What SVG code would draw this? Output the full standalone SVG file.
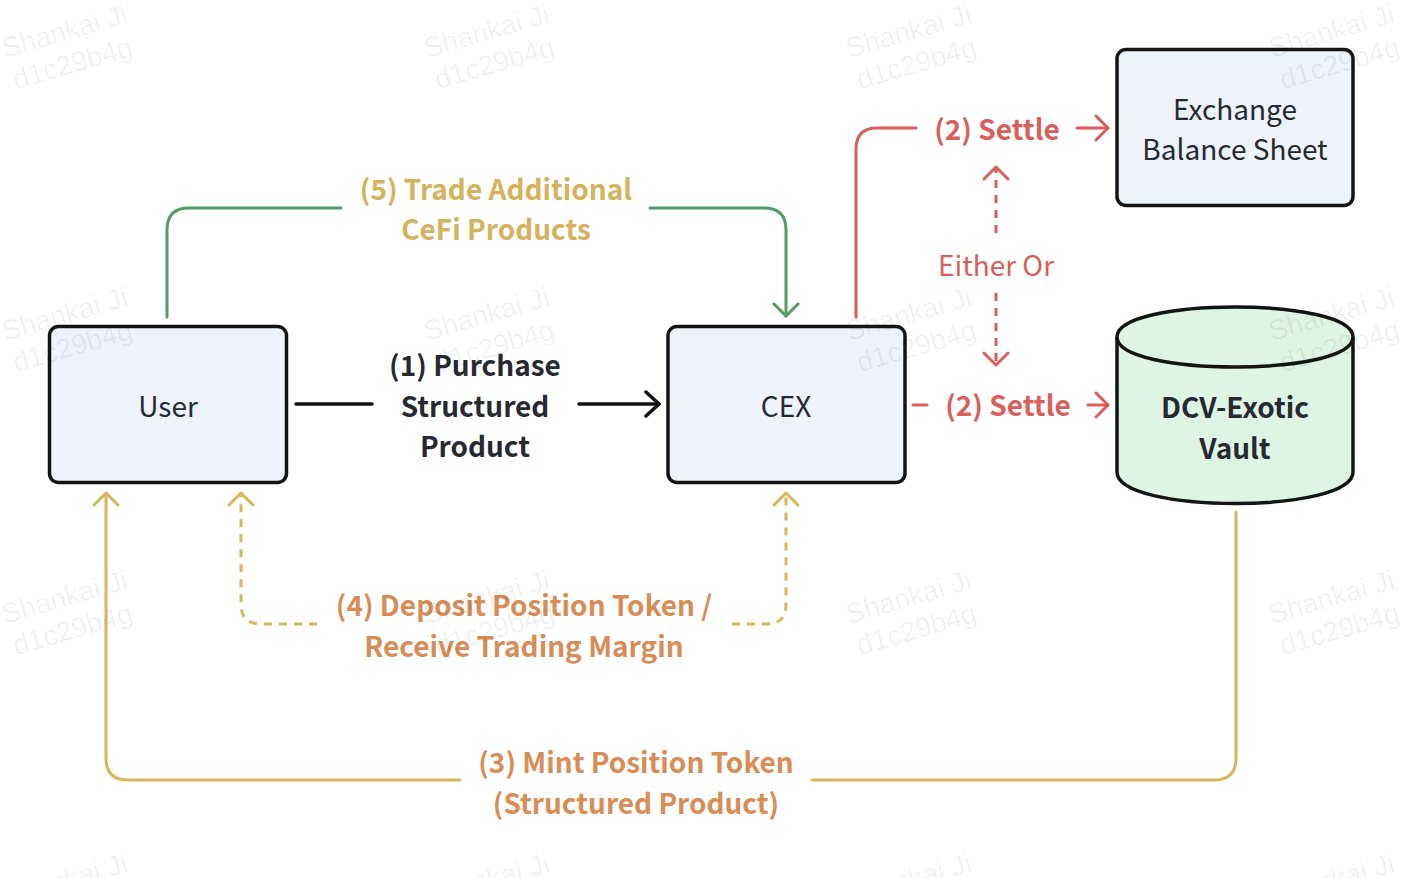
<svg xmlns="http://www.w3.org/2000/svg" width="1404" height="878" viewBox="0 0 1404 878">
<style>
  text { font-family: "Noto Sans CJK SC", "Noto Sans", "Liberation Sans", sans-serif; font-size: 28px; text-anchor: middle; }
  .node { fill: #EEF2FB; stroke: #141414; stroke-width: 3.5; }
  .vault { fill: #DEF4E4; stroke: #141414; stroke-width: 3.5; }
  .nlabel { fill: #262A30; }
  .b { font-weight: bold; }
  .dark { fill: #262A30; }
  .gold { fill: #D5B25C; }
  .orange { fill: #D88C56; }
  .red { fill: #D85F5C; }
  .ln { fill: none; stroke-width: 3; stroke-linecap: round; stroke-linejoin: round; }
  .k { stroke: #141414; stroke-width: 3.5; }
  .g { stroke: #529B65; }
  .r { stroke: #D85F5C; }
  .y { stroke: #D8B65C; }
  .dash { stroke-dasharray: 8 7; stroke-linecap: butt; }
  text.wm { font-family: "Liberation Sans", Arial, sans-serif; font-size: 28px; text-anchor: start; fill: #000000; fill-opacity: 0.06; }
</style>
<defs>
  <marker id="ak" markerUnits="userSpaceOnUse" viewBox="-16 -14 20 28" refX="0" refY="0" markerWidth="20" markerHeight="28" orient="auto">
    <path d="M-13,-12 L0,0 L-13,12" fill="none" stroke="#141414" stroke-width="3.5" stroke-linecap="round" stroke-linejoin="round"/>
  </marker>
  <marker id="ag" markerUnits="userSpaceOnUse" viewBox="-16 -14 20 28" refX="0" refY="0" markerWidth="20" markerHeight="28" orient="auto">
    <path d="M-12,-12 L0,0 L-12,12" fill="none" stroke="#529B65" stroke-width="3" stroke-linecap="round" stroke-linejoin="round"/>
  </marker>
  <marker id="ar" markerUnits="userSpaceOnUse" viewBox="-16 -14 20 28" refX="0" refY="0" markerWidth="20" markerHeight="28" orient="auto">
    <path d="M-12,-12 L0,0 L-12,12" fill="none" stroke="#D85F5C" stroke-width="3" stroke-linecap="round" stroke-linejoin="round"/>
  </marker>
  <marker id="ay" markerUnits="userSpaceOnUse" viewBox="-16 -14 20 28" refX="0" refY="0" markerWidth="20" markerHeight="28" orient="auto">
    <path d="M-12,-12 L0,0 L-12,12" fill="none" stroke="#D8B65C" stroke-width="3" stroke-linecap="round" stroke-linejoin="round"/>
  </marker>
</defs>
<rect width="1404" height="878" fill="#FFFFFF"/>

<g id="connectors">
  <!-- (1) Purchase -->
  <path class="ln k" d="M296,404 H372"/>
  <path class="ln k" d="M579,404 H659" marker-end="url(#ak)"/>
  <!-- (5) Trade Additional CeFi Products -->
  <path class="ln g" d="M167,317 V230 Q167,208 189,208 H341"/>
  <path class="ln g" d="M650,208 H764 Q786,208 786,230 V316" marker-end="url(#ag)"/>
  <!-- (2) Settle upper -->
  <path class="ln r" d="M856,317 V149 Q856,128 877,128 H916"/>
  <path class="ln r" d="M1077,128 H1108" marker-end="url(#ar)"/>
  <!-- (2) Settle lower -->
  <path class="ln r" d="M913,405 H927"/>
  <path class="ln r" d="M1088,405 H1108" marker-end="url(#ar)"/>
  <!-- Either Or -->
  <path class="ln r dash" d="M996,233 V167" marker-end="url(#ar)"/>
  <path class="ln r dash" d="M996,293 V365" marker-end="url(#ar)"/>
  <!-- (4) Deposit Position Token / Receive Trading Margin -->
  <path class="ln y dash" d="M317,624 H261 Q241,624 241,604 V493" marker-end="url(#ay)"/>
  <path class="ln y dash" d="M732,624 H767 Q786,624 786,604 V493" marker-end="url(#ay)"/>
  <!-- (3) Mint Position Token -->
  <path class="ln y" d="M1236,512 V758 Q1236,780 1214,780 H812"/>
  <path class="ln y" d="M460,780 H128 Q106,780 106,758 V493" marker-end="url(#ay)"/>
</g>

<g id="connector-labels">
  <text class="b dark" x="475" y="376">(1) Purchase</text>
  <text class="b dark" x="475" y="417">Structured</text>
  <text class="b dark" x="475" y="457">Product</text>
  <text class="b gold" x="496" y="200">(5) Trade Additional</text>
  <text class="b gold" x="496" y="240">CeFi Products</text>
  <text class="b red" x="997" y="140">(2) Settle</text>
  <text class="b red" x="1008" y="416">(2) Settle</text>
  <text class="red" x="996" y="276">Either Or</text>
  <text class="b orange" x="524" y="616">(4) Deposit Position Token /</text>
  <text class="b orange" x="524" y="657">Receive Trading Margin</text>
  <text class="b orange" x="636" y="773">(3) Mint Position Token</text>
  <text class="b orange" x="636" y="814">(Structured Product)</text>
</g>

<g id="node-user">
  <rect class="node" x="49.5" y="326.5" width="237" height="156" rx="9"/>
  <text class="nlabel" x="168" y="417">User</text>
</g>
<g id="node-cex">
  <rect class="node" x="668" y="326.5" width="237" height="156" rx="9"/>
  <text class="nlabel" x="786" y="417">CEX</text>
</g>
<g id="node-exchange">
  <rect class="node" x="1117" y="49.5" width="236" height="156" rx="9"/>
  <text class="nlabel" x="1235" y="120">Exchange</text>
  <text class="nlabel" x="1235" y="160">Balance Sheet</text>
</g>
<g id="node-vault">
  <path class="vault" d="M1117,337 C1117,297 1353,297 1353,337 V472 C1353,514 1117,514 1117,472 Z"/>
  <path class="vault" fill="none" d="M1117,337 C1117,377 1353,377 1353,337"/>
  <text class="b dark" x="1235" y="418">DCV-Exotic</text>
  <text class="b dark" x="1235" y="459">Vault</text>
</g>

<g id="watermarks">
  <g transform="translate(5,58) rotate(-16)"><text class="wm" x="0" y="0">Shankai Ji</text><text class="wm" x="2" y="33">d1c29b4g</text></g>
  <g transform="translate(427,58) rotate(-16)"><text class="wm" x="0" y="0">Shankai Ji</text><text class="wm" x="2" y="33">d1c29b4g</text></g>
  <g transform="translate(849,58) rotate(-16)"><text class="wm" x="0" y="0">Shankai Ji</text><text class="wm" x="2" y="33">d1c29b4g</text></g>
  <g transform="translate(1272,58) rotate(-16)"><text class="wm" x="0" y="0">Shankai Ji</text><text class="wm" x="2" y="33">d1c29b4g</text></g>
  <g transform="translate(5,341) rotate(-16)"><text class="wm" x="0" y="0">Shankai Ji</text><text class="wm" x="2" y="33">d1c29b4g</text></g>
  <g transform="translate(427,341) rotate(-16)"><text class="wm" x="0" y="0">Shankai Ji</text><text class="wm" x="2" y="33">d1c29b4g</text></g>
  <g transform="translate(849,341) rotate(-16)"><text class="wm" x="0" y="0">Shankai Ji</text><text class="wm" x="2" y="33">d1c29b4g</text></g>
  <g transform="translate(1272,341) rotate(-16)"><text class="wm" x="0" y="0">Shankai Ji</text><text class="wm" x="2" y="33">d1c29b4g</text></g>
  <g transform="translate(5,624) rotate(-16)"><text class="wm" x="0" y="0">Shankai Ji</text><text class="wm" x="2" y="33">d1c29b4g</text></g>
  <g transform="translate(427,624) rotate(-16)"><text class="wm" x="0" y="0">Shankai Ji</text><text class="wm" x="2" y="33">d1c29b4g</text></g>
  <g transform="translate(849,624) rotate(-16)"><text class="wm" x="0" y="0">Shankai Ji</text><text class="wm" x="2" y="33">d1c29b4g</text></g>
  <g transform="translate(1272,624) rotate(-16)"><text class="wm" x="0" y="0">Shankai Ji</text><text class="wm" x="2" y="33">d1c29b4g</text></g>
  <g transform="translate(5,907) rotate(-16)"><text class="wm" x="0" y="0">Shankai Ji</text><text class="wm" x="2" y="33">d1c29b4g</text></g>
  <g transform="translate(427,907) rotate(-16)"><text class="wm" x="0" y="0">Shankai Ji</text><text class="wm" x="2" y="33">d1c29b4g</text></g>
  <g transform="translate(849,907) rotate(-16)"><text class="wm" x="0" y="0">Shankai Ji</text><text class="wm" x="2" y="33">d1c29b4g</text></g>
  <g transform="translate(1272,907) rotate(-16)"><text class="wm" x="0" y="0">Shankai Ji</text><text class="wm" x="2" y="33">d1c29b4g</text></g>
</g>
</svg>
